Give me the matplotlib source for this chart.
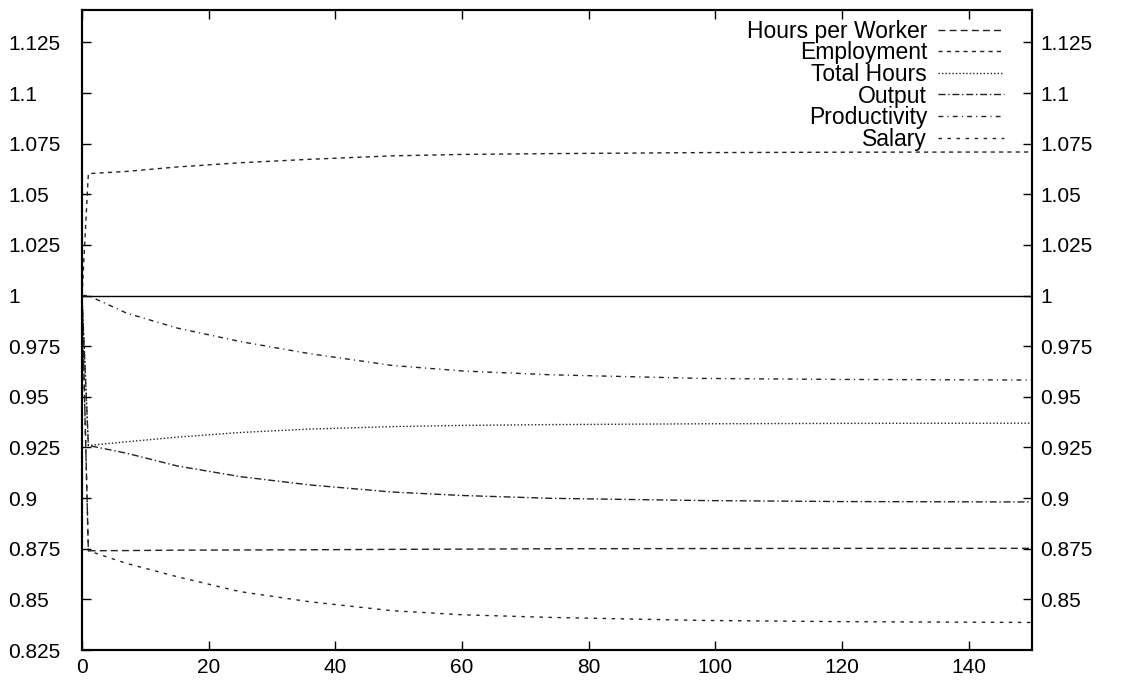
import matplotlib
matplotlib.use("Agg")
import matplotlib.pyplot as plt

plt.rcParams["font.family"] = ["Liberation Sans", "DejaVu Sans"]

periods = [0, 1, 7, 15, 25, 36, 49, 60, 74, 98, 120, 150]

hours_per_worker = [1.0, 0.8740, 0.8741, 0.8743, 0.8744, 0.8745, 0.8747, 0.8748, 0.8750, 0.8751, 0.8752, 0.8752]
employment = [1.0, 1.0602, 1.0613, 1.0635, 1.0656, 1.0673, 1.0690, 1.0697, 1.0701, 1.0706, 1.0708, 1.0709]
total_hours = [1.0, 0.9260, 0.9278, 0.9301, 0.9324, 0.9341, 0.9353, 0.9359, 0.9363, 0.9367, 0.9369, 0.9370]
output = [1.0, 0.9260, 0.9222, 0.9159, 0.9106, 0.9065, 0.9030, 0.9013, 0.8999, 0.8988, 0.8983, 0.8981]
productivity = [1.0, 1.0, 0.9914, 0.9840, 0.9773, 0.9713, 0.9655, 0.9628, 0.9609, 0.9591, 0.9586, 0.9583]
salary = [1.0, 0.8740, 0.8678, 0.8612, 0.8538, 0.8488, 0.8444, 0.8424, 0.8411, 0.8396, 0.8390, 0.8386]

series = [
    ("Hours per Worker", hours_per_worker, (0, (5, 3))),
    ("Employment", employment, (0, (3, 3))),
    ("Total Hours", total_hours, (0, (1, 1.5))),
    ("Output", output, (0, (5, 2, 1, 2))),
    ("Productivity", productivity, (0, (3.5, 3, 0.8, 3))),
    ("Salary", salary, (0, (2.5, 4))),
]

yticks = [0.825, 0.85, 0.875, 0.9, 0.925, 0.95, 0.975, 1.0, 1.025, 1.05, 1.075, 1.1, 1.125]
ytick_labels = ["0.825", "0.85", "0.875", "0.9", "0.925", "0.95", "0.975", "1",
                "1.025", "1.05", "1.075", "1.1", "1.125"]
xticks = [0, 20, 40, 60, 80, 100, 120, 140]
ylim = (0.825, 1.141)

fig = plt.figure(figsize=(11.22, 6.82), dpi=100)
ax = fig.add_axes([0.0731, 0.0469, 0.8467, 0.9384])

ax.axhline(1.0, color="black", lw=1.0)
for name, values, style in series:
    ax.plot(periods, values, color="#222222", lw=1.0, linestyle=style, label=name)

ax.set_xlim(0, 150)
ax.set_ylim(*ylim)
ax.set_xticks(xticks)
ax.set_yticks(yticks)
ax.set_yticklabels(ytick_labels)
for lbl in ax.get_yticklabels():
    lbl.set_horizontalalignment("left")

ax.tick_params(axis="both", direction="in", length=6.5, width=1.0, labelsize=15)
ax.tick_params(axis="x", top=True, pad=6)
ax.tick_params(axis="y", pad=53)

# right side repeats the labels, except the bottom one
ax2 = ax.twinx()
ax2.set_ylim(*ylim)
ax2.set_yticks(yticks[1:])
ax2.set_yticklabels(ytick_labels[1:])
ax2.tick_params(axis="y", direction="in", length=6.5, width=1.0, labelsize=15, pad=6)

for a in (ax, ax2):
    for sp in a.spines.values():
        sp.set_linewidth(1.5)

ax.legend(loc="upper right", bbox_to_anchor=(0.9705, 0.985), markerfirst=False,
          frameon=False, fontsize=16.5, handlelength=2.9, handletextpad=0.45,
          labelspacing=-0.06, borderpad=0, borderaxespad=0)

fig.savefig("out.png", dpi=100)
